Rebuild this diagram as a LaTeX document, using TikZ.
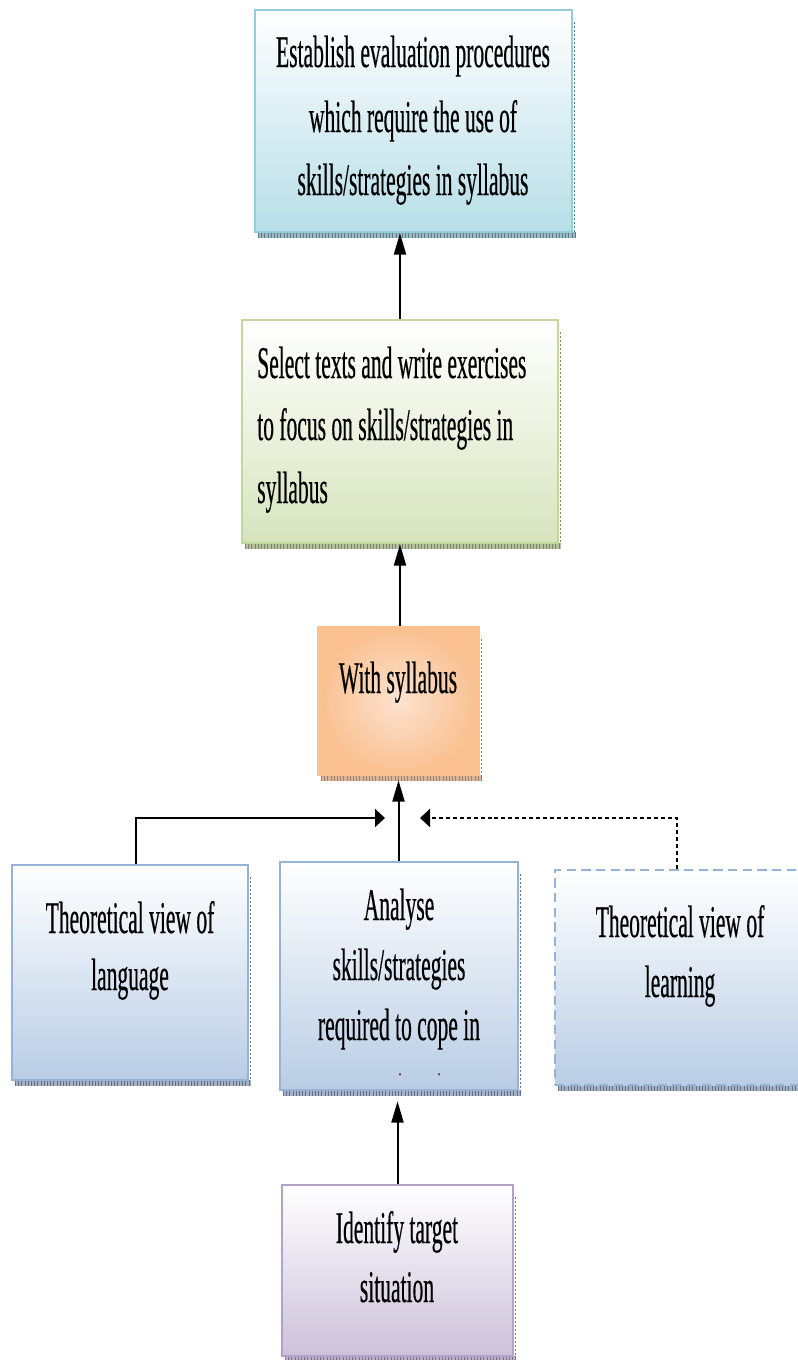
\documentclass[tikz,border=0pt]{standalone}
\usepackage{fontspec}
\setmainfont{Liberation Serif}
\newfontfamily\dfont[FakeStretch=0.475,FakeBold=0.35]{Liberation Serif}
\usetikzlibrary{arrows.meta,calc}
\definecolor{cyanB}{HTML}{93CDDD}
\definecolor{cyanF}{HTML}{B7DEE8}
\definecolor{cyanS}{HTML}{4F7F8C}
\definecolor{greenB}{HTML}{C3D69B}
\definecolor{greenF}{HTML}{D7E4BD}
\definecolor{greenS}{HTML}{7A8A5A}
\definecolor{orangeB}{HTML}{FAC090}
\definecolor{orangeF}{HTML}{FCE2CF}
\definecolor{orangeS}{HTML}{B07A55}
\definecolor{blueB}{HTML}{95B3D7}
\definecolor{blueF}{HTML}{B9CDE5}
\definecolor{blueS}{HTML}{5E7290}
\definecolor{purpB}{HTML}{B3A2C7}
\definecolor{purpF}{HTML}{CCC1DA}
\definecolor{purpS}{HTML}{7E7290}
\tikzset{
  boxbase/.style={inner sep=0pt, line width=1.9pt},
  txt/.style={font=\dfont\fontsize{34}{45}\selectfont, inner sep=0pt, anchor=base},
  conn/.style={line width=1.5pt, draw=black},
  vtip/.style={-{Triangle[length=16pt,width=9pt]}},
  htip/.style={-{Triangle[length=7.5pt,width=13.5pt]}},
}
% shadow strip: x0, x1, ytop, ybottom, colour
\newcommand\boxshade[5]{%
  \fill[#5!55] ({#1+3},{#4}) rectangle ({#2+3},{#4+6});
  \draw[#5, line width=4.5pt, dash pattern=on 0.8pt off 1.6pt] ({#1+3},{#4+3}) -- ({#2+3},{#4+3});
  \draw[#5, line width=0.6pt, dash pattern=on 1.2pt off 1.8pt] ({#2+2},{#3+12}) -- ({#2+2},{#4});
}
\begin{document}
\begin{tikzpicture}[x=0.75pt,y=-0.75pt]
\useasboundingbox (0,0) rectangle (798,1360);
\fill[white] (0,0) rectangle (798,1360);

% shadows
\boxshade{255}{572}{10}{232}{cyanS}
\boxshade{242}{558}{320}{543}{greenS}
\boxshade{318}{479}{627}{775}{orangeS}
\boxshade{12}{248}{865}{1080}{blueS}
\boxshade{280}{518}{862}{1090}{blueS}
\boxshade{555}{810}{870}{1085}{blueS}
\boxshade{282}{513}{1185}{1356}{purpS}

% boxes
\node[boxbase, draw=cyanB, top color=white, bottom color=cyanF, minimum width=317*0.75pt, minimum height=222*0.75pt] (est) at (413.5,121) {};
\node[boxbase, draw=greenB, top color=white, bottom color=greenF, minimum width=316*0.75pt, minimum height=223*0.75pt] (sel) at (400,431.5) {};
\node[boxbase, draw=orangeB, inner color=orangeF, outer color=orangeB, minimum width=161*0.75pt, minimum height=148*0.75pt] (syl) at (398.5,701) {};
\node[boxbase, draw=blueB, top color=white, bottom color=blueF, minimum width=236*0.75pt, minimum height=215*0.75pt] (lang) at (130,972.5) {};
\node[boxbase, draw=blueB, top color=white, bottom color=blueF, minimum width=238*0.75pt, minimum height=228*0.75pt] (ana) at (399,976) {};
\node[boxbase, draw=blueB, dash pattern=on 7pt off 4pt, top color=white, bottom color=blueF, minimum width=255*0.75pt, minimum height=215*0.75pt] (learn) at (682.5,977.5) {};
\node[boxbase, draw=purpB, top color=white, bottom color=purpF, minimum width=231*0.75pt, minimum height=171*0.75pt] (ident) at (397.5,1270.5) {};

% texts
\node[txt] (est1) at (413,67) {Establish evaluation procedures};
\node[txt] (est2) at (413,132) {which require the use of};
\node[txt] (est3) at (413,195) {skills/strategies in syllabus};
\node[txt, anchor=base west] (sel1) at (257,378) {Select texts and write exercises};
\node[txt, anchor=base west] (sel2) at (257,440) {to focus on skills/strategies in};
\node[txt, anchor=base west] (sel3) at (257,503) {syllabus};
\node[txt] (syl1) at (398,693) {With syllabus};
\node[txt] (lang1) at (130,933) {Theoretical view of};
\node[txt] (lang2) at (130,990) {language};
\node[txt] (ana1) at (399,920) {Analyse};
\node[txt] (ana2) at (399,980) {skills/strategies};
\node[txt] (ana3) at (399,1040) {required to cope in};
\node[font=\dfont\fontsize{14}{14}\selectfont, inner sep=0pt, anchor=base] (dotA) at (400,1075) {.};
\node[font=\dfont\fontsize{14}{14}\selectfont, inner sep=0pt, anchor=base] (dotB) at (439,1075) {.};
\node[txt] (learn1) at (680,937) {Theoretical view of};
\node[txt] (learn2) at (680,997) {learning};
\node[txt] (ident1) at (397,1243) {Identify target};
\node[txt] (ident2) at (397,1302) {situation};

% connector end points
\coordinate (ltip) at (385,818);
\coordinate (rtip) at (420,818);

% connectors
\draw[conn, vtip] (sel.north) -- (sel.north |- est.south);
\draw[conn, vtip] (syl.north -| sel.north) -- (sel.south);
\draw[conn, vtip] (ana.north -| syl.north) -- ($(syl.south)+(0,4)$);
\draw[conn, htip] ([xshift=4.5pt]lang.north) |- (ltip);
\draw[conn, htip, dash pattern=on 3pt off 2.2pt] ([xshift=-4.5pt]learn.north) |- (rtip);
\draw[conn, vtip] (ident.north) -- ($(ident.north |- ana.south)+(0,10)$);
\end{tikzpicture}
\end{document}
